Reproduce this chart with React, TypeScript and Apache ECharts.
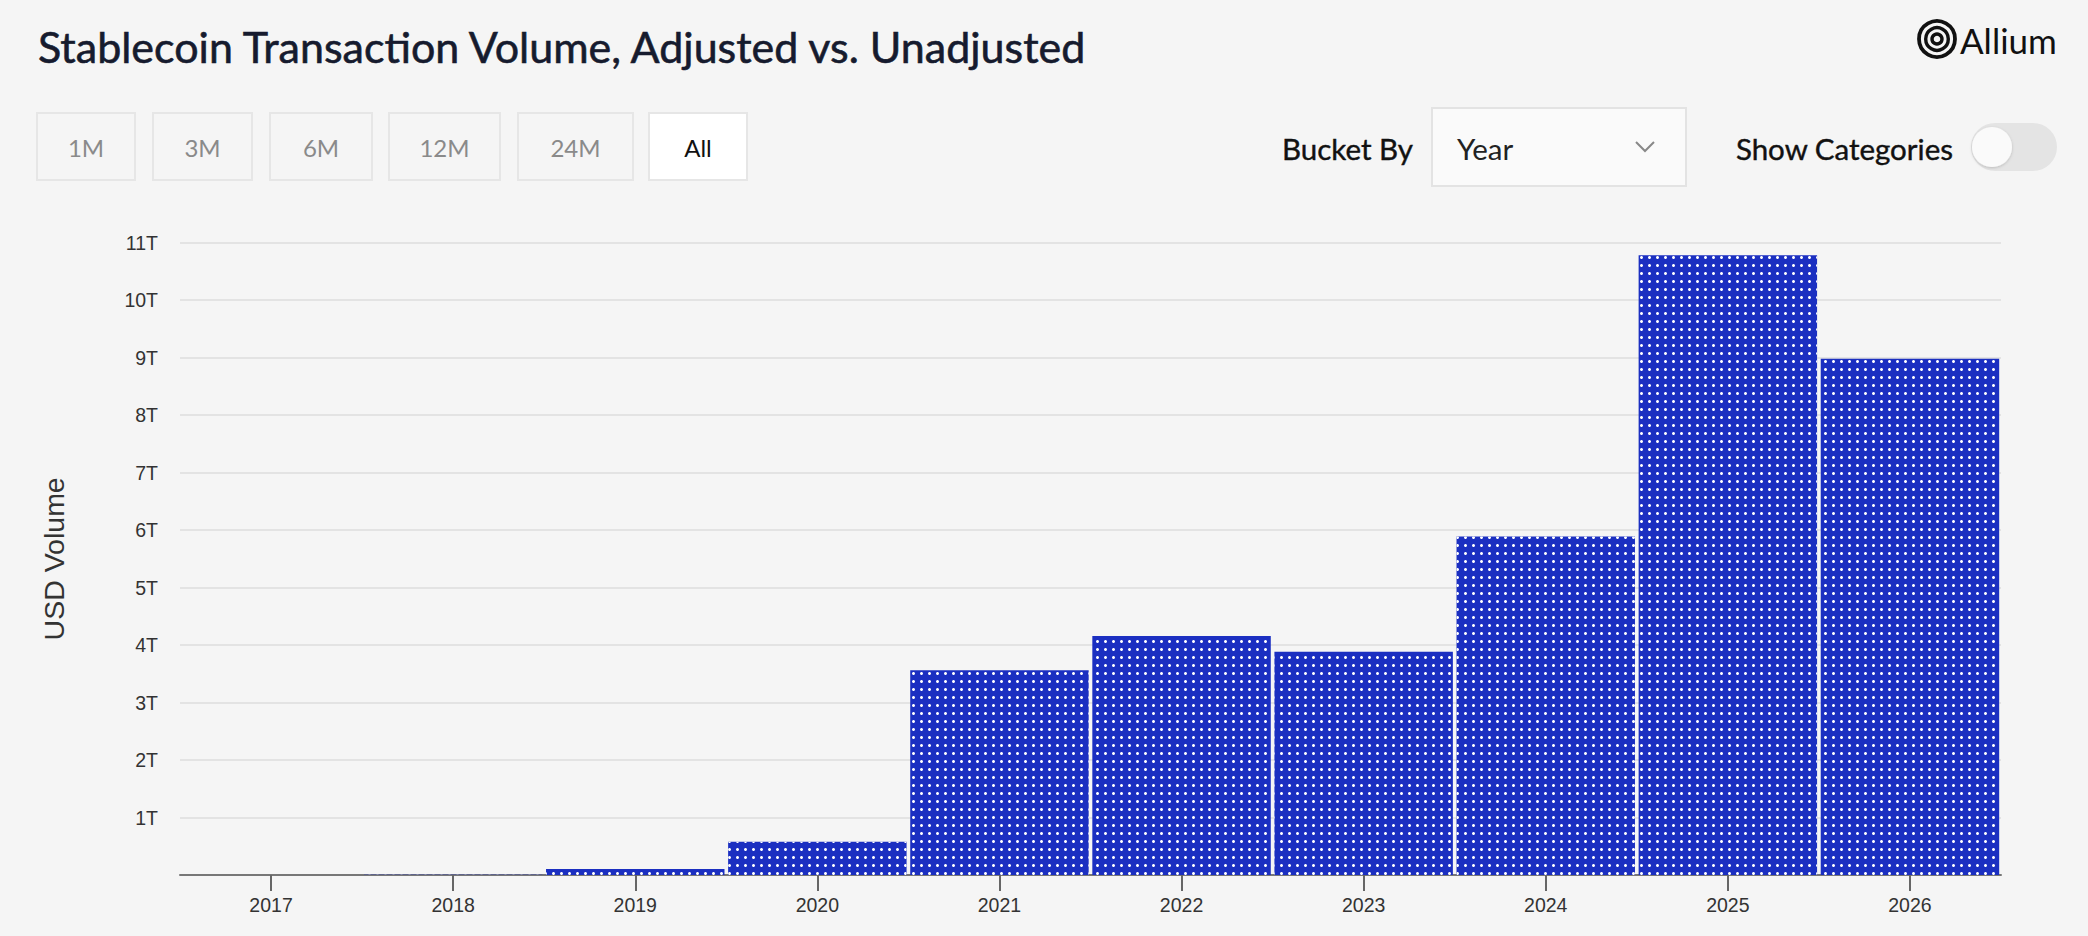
import React, { useEffect, useRef } from "react";
import * as echarts from "echarts";

const titleText = "Stablecoin Transaction Volume, Adjusted vs. Unadjusted";
const years = ["2017", "2018", "2019", "2020", "2021", "2022", "2023", "2024", "2025", "2026"];
// USD volume in trillions
const volumeT = [0, 0.003, 0.105, 0.58, 3.56, 4.16, 3.885, 5.89, 10.78, 8.98];
const rangeButtons = ["1M", "3M", "6M", "12M", "24M", "All"];
const activeRange = "All";
const bucketLabel = "Bucket By";
const bucketValue = "Year";
const toggleLabel = "Show Categories";
const yAxisName = "USD Volume";
const brand = "Allium";

const BG = "#f5f5f5";
const BAR = "#1b2fc1";
const UI_FONT = "Lato";
const AXIS_FONT = "Liberation Sans";

export default function App() {
  const ref = useRef<HTMLDivElement>(null);

  useEffect(() => {
    document.body.style.margin = "0";
    document.body.style.background = BG;
    const chart = echarts.init(ref.current!, null, { renderer: "svg" });

    const btnX = [37, 153, 270, 389, 518, 649];
    const btnW = [98, 99, 102, 111, 115, 98];
    const buttons: any[] = rangeButtons.map((b, i) => {
      const active = b === activeRange;
      return {
        type: "group",
        children: [
          {
            type: "rect",
            shape: { x: btnX[i], y: 113, width: btnW[i], height: 67 },
            style: { fill: active ? "#ffffff" : BG, stroke: "#e6e6e6", lineWidth: 2 },
          },
          {
            type: "text",
            x: btnX[i] + btnW[i] / 2,
            y: 147,
            style: {
              text: b,
              align: "center",
              verticalAlign: "middle",
              fontFamily: UI_FONT,
              fontSize: 24,
              fill: active ? "#111111" : "#8a8a8a",
            },
          },
        ],
      };
    });

    const option: any = {
      animation: false,
      backgroundColor: BG,
      title: {
        text: titleText,
        left: 33,
        top: 20,
        textStyle: {
          fontFamily: UI_FONT,
          fontSize: 43,
          lineHeight: 43,
          fontWeight: "normal",
          color: "#161b2e",
          textBorderColor: "#161b2e",
          textBorderWidth: 0.6,
        },
      },
      grid: { left: 180, right: 87, top: 242.7, bottom: 61, containLabel: false },
      xAxis: {
        type: "category",
        data: years,
        axisLine: { show: true, lineStyle: { color: "#777777", width: 2 } },
        axisTick: { show: true, alignWithLabel: true, length: 16, lineStyle: { color: "#666666", width: 2 } },
        axisLabel: { fontFamily: AXIS_FONT, fontSize: 19.5, color: "#333333", margin: 20 },
        splitLine: { show: false },
      },
      yAxis: {
        type: "value",
        min: 0,
        max: 11,
        interval: 1,
        name: yAxisName,
        nameLocation: "middle",
        nameGap: 112,
        nameTextStyle: { fontFamily: AXIS_FONT, fontSize: 28.5, color: "#333333" },
        axisLine: { show: false },
        axisTick: { show: false },
        axisLabel: {
          fontFamily: AXIS_FONT,
          fontSize: 19.5,
          color: "#333333",
          margin: 22,
          formatter: (v: number) => (v === 0 ? "" : `${v}T`),
        },
        splitLine: { show: true, lineStyle: { color: "#e3e3e3", width: 2 } },
      },
      series: [
        {
          type: "bar",
          data: volumeT,
          barCategoryGap: "2%",
          itemStyle: {
            color: BAR,
            decal: {
              symbol: "circle",
              symbolSize: 1,
              color: "#ffffff",
              dashArrayX: [3, 5],
              dashArrayY: [3, 5],
              rotation: 0,
            },
          },
        },
      ],
      graphic: [
        ...buttons,
        {
          type: "text",
          x: 1413,
          y: 148,
          style: {
            text: bucketLabel,
            align: "right",
            verticalAlign: "middle",
            fontFamily: UI_FONT,
            fontSize: 29.5,
            fill: "#111111",
            stroke: "#111111",
            lineWidth: 0.4,
          },
        },
        {
          type: "rect",
          shape: { x: 1432, y: 108, width: 254, height: 78 },
          style: { fill: "#fafafa", stroke: "#e3e3e3", lineWidth: 2 },
        },
        {
          type: "text",
          x: 1457,
          y: 148,
          style: {
            text: bucketValue,
            align: "left",
            verticalAlign: "middle",
            fontFamily: UI_FONT,
            fontSize: 29.5,
            fill: "#222222",
          },
        },
        {
          type: "polyline",
          shape: { points: [[1636, 142], [1645, 151], [1654, 142]] },
          style: { stroke: "#888888", lineWidth: 2, fill: null },
        },
        {
          type: "text",
          x: 1953,
          y: 148,
          style: {
            text: toggleLabel,
            align: "right",
            verticalAlign: "middle",
            fontFamily: UI_FONT,
            fontSize: 29.5,
            fill: "#111111",
            stroke: "#111111",
            lineWidth: 0.4,
          },
        },
        {
          type: "rect",
          shape: { x: 1971, y: 123, width: 86, height: 48, r: 24 },
          style: { fill: "#e4e4e4" },
        },
        {
          type: "circle",
          shape: { cx: 1992, cy: 147, r: 20 },
          style: {
            fill: "#fafafa",
            shadowBlur: 3,
            shadowColor: "rgba(0,0,0,0.18)",
            shadowOffsetY: 1,
          },
        },
        {
          type: "circle",
          shape: { cx: 1937, cy: 39, r: 18 },
          style: { fill: null, stroke: "#111111", lineWidth: 3.8 },
        },
        {
          type: "circle",
          shape: { cx: 1937, cy: 39, r: 11.3 },
          style: { fill: null, stroke: "#111111", lineWidth: 3.4 },
        },
        {
          type: "circle",
          shape: { cx: 1937, cy: 39, r: 5 },
          style: { fill: null, stroke: "#111111", lineWidth: 3.4 },
        },
        {
          type: "text",
          x: 1960,
          y: 40,
          style: {
            text: brand,
            align: "left",
            verticalAlign: "middle",
            fontFamily: UI_FONT,
            fontSize: 35,
            fill: "#111111",
          },
        },
      ],
    };

    chart.setOption(option);
    return () => chart.dispose();
  }, []);

  return (
    <div
      ref={ref}
      style={{ position: "absolute", left: 0, top: 0, width: 2088, height: 936, background: BG }}
    />
  );
}
